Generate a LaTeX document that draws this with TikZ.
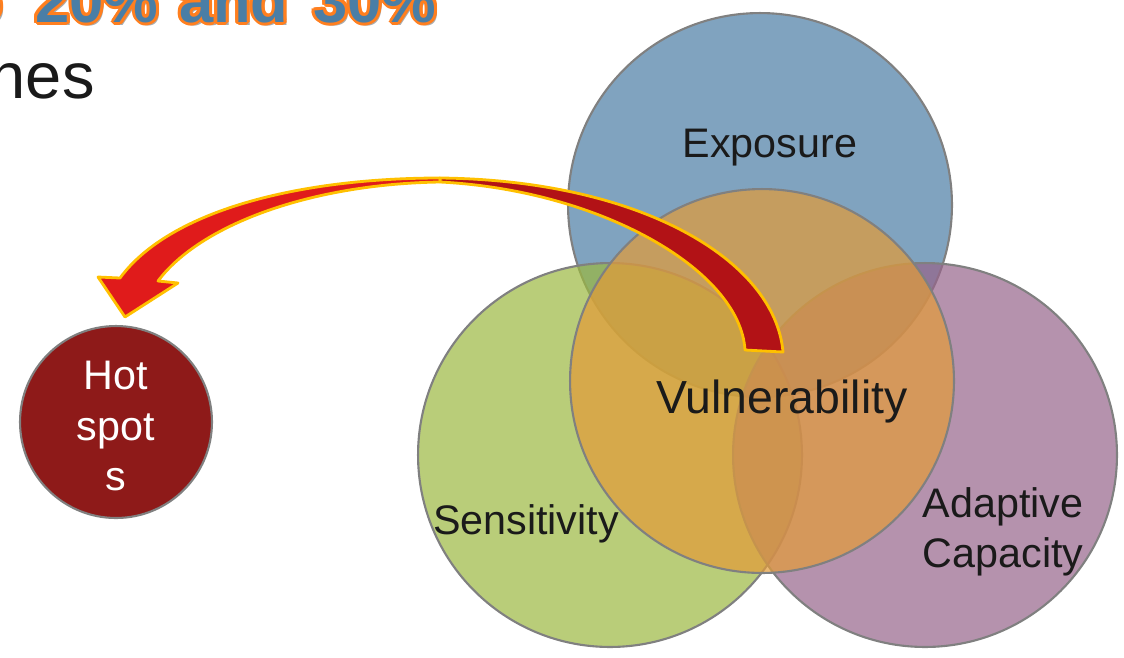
\documentclass[tikz,border=0pt]{standalone}
\usepackage{fontspec}
\setmainfont{Liberation Sans}
\definecolor{expblue}{RGB}{128,163,191}
\definecolor{sensgreen}{RGB}{155,184,64}
\definecolor{adapurple}{RGB}{150,100,138}
\definecolor{vulorange}{RGB}{226,155,57}
\definecolor{hotred}{RGB}{142,26,25}
\definecolor{vennrim}{RGB}{128,128,128}
\definecolor{lbltext}{RGB}{26,26,26}
\definecolor{arrowred}{RGB}{224,27,27}
\definecolor{arrowdark}{RGB}{178,18,22}
\definecolor{arrowrim}{RGB}{255,192,0}
\definecolor{hdblue}{RGB}{74,126,166}
\definecolor{hdorange}{RGB}{255,127,31}
\definecolor{hdshadow}{RGB}{170,170,170}
\newcommand{\hltext}{o\hspace{9pt} 20\%\hspace{2pt} and\hspace{4.5pt} 30\%}

\begin{document}
\begin{tikzpicture}[x=0.02cm,y=-0.02cm]

\tikzset{venn/.style = {shape=circle,draw=vennrim,line width=1.2pt,minimum size=7.68cm,inner sep=0pt}}
\tikzset{lbl/.style = {text=lbltext,align=center,inner sep=0pt,font=\fontsize{23.5}{28.5}\selectfont}}
\tikzset{headline/.style = {anchor=base east,inner sep=0pt,font=\bfseries\fontsize{35}{42}\selectfont}}
\tikzset{arrowbody/.style = {draw=arrowrim,line width=1.6pt,line join=round}}

\useasboundingbox (0,0) rectangle (1124,657);

%heading
\node[headline, text=hdshadow] (hlshadow) at (440,25) {\hltext};
\foreach \a [count=\i] in {0,30,...,330}
  \node[headline, text=hdorange] (hlo\i) at ([shift={(\a:3)}]437,22) {\hltext};
\node[headline, text=hdblue] (hlone) at (437,22) {\hltext};
\node[headline, text=lbltext, font=\fontsize{37}{44}\selectfont] (hltwo) at (95,98) {nes};

%circles
\node[venn, fill=expblue] (exp) at (760,205) {};
\node[venn, fill=sensgreen, fill opacity=0.7] (sens) at (610,455) {};
\node[venn, fill=adapurple, fill opacity=0.7] (adap) at (925,455) {};
\node[venn, fill=vulorange, fill opacity=0.71] (vul) at (762,381) {};
\node[venn, fill=hotred, minimum size=3.84cm] (hot) at (116,422) {};

%labels
\node[lbl] (explbl) at (770,148) {Exposure};
\node[lbl, font=\fontsize{26.4}{32}\selectfont] (vullbl) at (782,401) {Vulnerability};
\node[lbl] (senslbl) at (526,524) {Sensitivity};
\node[lbl] (adaplbl) at (1003,532) {Adaptive\\Capacity};
\node[lbl, text=white] (hotlbl) at (116,426) {Hot\\spot\\s};

%arrow
\coordinate (tailR) at (783,352);
\coordinate (tailL) at (745,350);
\coordinate (topO) at (440,178);
\coordinate (topI) at (440,182);
\coordinate (neckL) at (120,278);
\coordinate (neckR) at (158,281);
\coordinate (tip) at (125,317);
\draw[arrowbody, fill=arrowdark] (tailR) .. controls (775,260) and (640,180) .. (topO)
  -- (topI) .. controls (600,190) and (740,270) .. (tailL) -- cycle;
\draw[arrowbody, fill=arrowred] (topO) .. controls (300,178) and (170,210) .. (neckL)
  -- (98,277) -- (tip) -- (178,283) -- (neckR)
  .. controls (200,225) and (310,184) .. (topI) -- cycle;

\end{tikzpicture}
\end{document}
